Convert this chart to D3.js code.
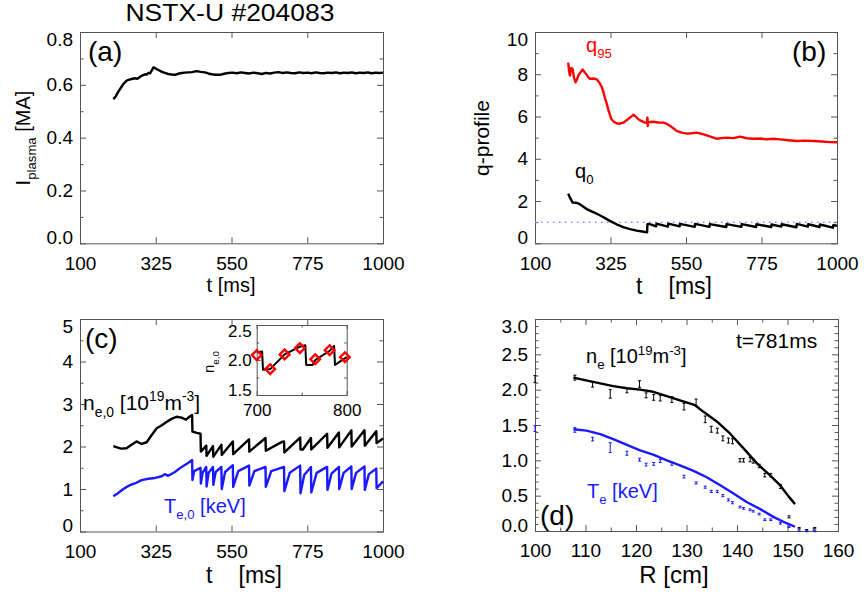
<!DOCTYPE html>
<html>
<head>
<meta charset="utf-8">
<script src="https://cdn.jsdelivr.net/npm/d3@7"></script>
<style>
body { margin: 0; background: #fff; }
svg { display: block; font-family: "Liberation Sans", Arial, Helvetica, sans-serif; }
text { white-space: pre; }
</style>
</head>
<body>
<svg id="chart" width="865" height="592"></svg>
<script>
// (a) plasma current [t ms, MA]
var ipData = [[199,0.546],[206,0.556],[214,0.574],[222,0.590],[229,0.603],[237,0.614],[244,0.619],[253,0.622],[263,0.625],[270,0.623],
    [278,0.630],[286,0.636],[293,0.640],[298,0.639],[303,0.645],[308,0.643],[311,0.650],[315,0.658],[318,0.666],[322,0.664],
    [327,0.660],[333,0.656],[342,0.650],[352,0.645],[362,0.641],[372,0.639],[382,0.638],[392,0.642],[402,0.645],[412,0.646],
    [422,0.647],[432,0.648],[447,0.652],[458,0.649],[471,0.647],[481,0.643],[491,0.640],[503,0.638],[516,0.638],[528,0.642],
    [541,0.645],[553,0.646],[566,0.644],[578,0.647],[590,0.645],[603,0.643],[615,0.646],[628,0.644],[640,0.641],[652,0.645],
    [665,0.643],[677,0.646],[689,0.648],[701,0.645],[714,0.647],[726,0.645],[739,0.644],[751,0.647],[764,0.645],[776,0.646],
    [788,0.644],[800,0.647],[812,0.645],[824,0.644],[836,0.646],[848,0.645],[860,0.647],[872,0.644],[884,0.646],[896,0.645],
    [907,0.647],[919,0.644],[931,0.646],[943,0.645],[955,0.647],[966,0.644],[978,0.646],[990,0.645],[1000,0.646]];

// (b) q95 and q0
var q95Data = [[199,8.55],[202,8.1],[204,7.94],[208,8.3],[212,8.25],[216,7.85],[221,7.62],[225,7.75],[229,7.94],[236,8.1],
    [242,8.22],[248,8.1],[254,7.97],[259,7.85],[264,7.78],[274,7.8],[284,7.76],[292,7.6],[299,7.4],[304,7.15],[309,6.85],
    [314,6.6],[318,6.35],[323,6.1],[328,5.87],[335,5.75],[343,5.68],[353,5.66],[363,5.71],[373,5.82],[383,5.95],[393,6.08],
    [400,6.0],[408,5.87],[418,5.78],[428,5.71],[434,5.70],[435,5.95],[436,5.55],[437,5.75],[445,5.74],[452,5.75],[467,5.72],
    [482,5.71],[492,5.66],[502,5.56],[512,5.45],[522,5.32],[537,5.24],[552,5.19],[567,5.21],[582,5.24],[597,5.18],[612,5.11],
    [627,5.03],[641,4.95],[656,4.98],[671,5.0],[691,4.98],[711,5.05],[731,4.97],[751,4.95],[771,4.96],[790,4.92],[810,4.95],
    [830,4.92],[855,4.88],[880,4.84],[905,4.86],[929,4.84],[954,4.82],[979,4.79],[1000,4.78]];
var q0Data = [[199,2.35],[203,2.2],[208,2.05],[212,1.93],[222,1.92],[230,1.88],[240,1.78],[254,1.62],[270,1.50],[284,1.40],
    [300,1.27],[323,1.06],[343,0.90],[363,0.77],[383,0.67],[403,0.60],[420,0.56],[434,0.52],[435,0.90],[440,0.92],[461,0.80],
    [462,0.93],[496,0.79],[497,0.93],[531,0.80],[532,0.92],[576,0.78],[577,0.92],[620,0.78],[621,0.91],[670,0.77],[671,0.91],
    [715,0.78],[716,0.91],[759,0.77],[760,0.90],[804,0.77],[805,0.89],[834,0.79],[835,0.90],[879,0.76],[880,0.92],[913,0.79],
    [914,0.90],[948,0.77],[949,0.89],[988,0.74],[989,0.86],[1000,0.83]];
var qRef = 1;

// (c) central density and temperature
var neData = [[199,2.01],[210,1.98],[222,1.95],[238,1.96],[253,2.04],[268,2.12],[283,2.06],[298,2.10],[313,2.27],[328,2.43],
    [343,2.50],[358,2.58],[372,2.65],[387,2.70],[402,2.68],[415,2.63],[425,2.70],[433,2.74],[434,2.35],[447,2.32],[458,2.30],
    [459,1.88],[475,2.02],[476,1.78],[495,2.01],[496,1.76],[520,2.04],[521,1.80],[554,2.12],[555,1.82],[602,2.17],[603,1.88],
    [651,2.20],[652,1.90],[700,2.11],[706,2.12],[707,1.86],[754,2.21],[755,1.93],[762,1.93],[786,2.20],[787,1.93],[834,2.30],
    [835,1.97],[869,2.33],[870,1.98],[906,2.38],[907,2.00],[945,2.38],[946,2.02],[980,2.36],[981,2.08],[1000,2.19]];
var teData = [[199,0.83],[209,0.88],[219,0.94],[229,1.00],[239,1.05],[251,1.10],[263,1.13],[283,1.21],[303,1.24],[323,1.26],
    [343,1.30],[352,1.35],[362,1.31],[382,1.40],[402,1.52],[422,1.62],[433,1.68],[434,1.21],[439,1.42],[458,1.50],[459,1.13],
    [464,1.38],[475,1.52],[476,1.06],[482,1.38],[495,1.52],[496,1.10],[503,1.40],[520,1.52],[521,1.00],[531,1.40],[554,1.56],
    [555,1.05],[570,1.42],[602,1.55],[603,1.08],[618,1.42],[651,1.52],[652,1.05],[668,1.42],[706,1.52],[707,0.95],[723,1.38],
    [754,1.55],[755,0.90],[766,1.33],[786,1.52],[787,0.92],[803,1.38],[834,1.52],[835,0.98],[847,1.36],[869,1.52],[870,1.00],
    [883,1.38],[906,1.53],[907,1.00],[920,1.38],[945,1.53],[946,0.98],[958,1.35],[980,1.48],[981,1.02],[1000,1.18]];
// inset: n_e,0 zoom and Thomson samples
var insetNe = [[700,2.11],[706,2.12],[707,1.86],[715,1.87],[731,2.08],[748,2.19],[754,2.21],[755,1.93],[762,1.93],[765,2.0],
    [781,2.13],[786,2.2],[787,1.93],[800,2.04]];
var tsTime = [700, 715, 731, 748, 765, 781, 798];
var tsNe = [2.07, 1.87, 2.08, 2.17, 2.01, 2.14, 2.04];

// (d) profiles at t=781ms
var fitR = [107.6, 111.5, 115.5, 118.2, 120.8, 123.4, 126.1, 128.7, 131.7, 133.3, 136.0, 138.6, 141.3, 143.9, 146.5, 148.5, 150.2, 151.5];
var fitNe = [2.17, 2.11, 2.05, 2.02, 2.00, 1.97, 1.91, 1.85, 1.78, 1.69, 1.55, 1.38, 1.17, 0.96, 0.79, 0.65, 0.49, 0.38];
var fitTeR = [107.6, 110.2, 112.9, 115.5, 118.2, 120.8, 123.4, 126.1, 128.7, 131.4, 134.0, 136.6, 139.3, 141.9, 144.6, 147.2, 149.8, 151.5];
var fitTe = [1.44, 1.42, 1.37, 1.30, 1.22, 1.14, 1.08, 1.00, 0.93, 0.85, 0.76, 0.65, 0.53, 0.41, 0.31, 0.20, 0.11, 0.06];
var tsR = [100.0, 107.9, 111.4, 114.9, 118.2, 120.7, 122.0, 123.5, 124.8, 127.1, 129.5, 131.9, 133.7, 134.9, 136.1,
    137.2, 138.3, 139.1, 140.6, 141.3, 142.6, 143.2, 144.4, 145.5, 146.7, 148.6, 150.3, 152.3, 153.8, 155.4];
var tsProfNe = [2.15, 2.17, 2.07, 1.94, 1.99, 2.08, 1.92, 1.89, 1.88, 1.86, 1.76, 1.82, 1.58, 1.44, 1.42,
    1.31, 1.28, 1.27, 1.00, 1.00, 1.01, 0.99, 0.92, 0.79, 0.79, 0.63, 0.20, 0.04, 0.01, 0.04];
var tsProfNeErr = [0.05, 0.035, 0.033, 0.06, 0.035, 0.047, 0.035, 0.04, 0.04, 0.04, 0.047, 0.047, 0.047, 0.042, 0.035,
    0.035, 0.035, 0.035, 0.024, 0.024, 0.03, 0.03, 0.025, 0.025, 0.025, 0.03, 0.015, 0.01, 0.01, 0.01];
var tsProfTe = [1.45, 1.43, 1.30, 1.18, 1.10, 1.01, 0.94, 0.95, 0.99, 0.95, 0.77, 0.68, 0.62, 0.56, 0.56,
    0.50, 0.44, 0.40, 0.34, 0.32, 0.30, 0.28, 0.24, 0.16, 0.16, 0.11, 0.06, 0.005, 0.0, 0.0];
var tsProfTeErr = [0.042, 0.033, 0.026, 0.07, 0.028, 0.02, 0.02, 0.02, 0.02, 0.02, 0.02, 0.015, 0.015, 0.015, 0.015,
    0.015, 0.015, 0.015, 0.012, 0.012, 0.012, 0.012, 0.012, 0.012, 0.012, 0.012, 0.01, 0.01, 0.01, 0.01];

var timeTicks = [100, 325, 550, 775, 1000];

var AXIS = '#555';
var RED = '#ff0000', BLUE = '#1a1aff';
var svg = d3.select('#chart');

function tickSet(g, axisFn, scale, pos, values, len, fmt, pad) {
    var a = axisFn(scale).tickValues(values).tickSize(-len).tickPadding(pad || 3)
        .tickFormat(fmt || function() { return ''; });
    var s = g.append('g').attr('transform', pos).call(a);
    s.select('.domain').remove();
    s.attr('font-family', null).attr('font-size', null).attr('color', AXIS);
    s.selectAll('text').attr('fill', '#000');
    return s;
}

function panel(box, xDom, yDom, o) {
    var g = svg.append('g');
    var x = d3.scaleLinear().domain(xDom).range([box[0], box[1]]);
    var y = d3.scaleLinear().domain(yDom).range([box[3], box[2]]);
    var tl = o.tick || 6, ml = o.minor || 3.5, fs = o.fontSize || 19;
    var bottom = 'translate(0,' + box[3] + ')', top = 'translate(0,' + box[2] + ')';
    var left = 'translate(' + box[0] + ',0)', right = 'translate(' + box[1] + ',0)';
    if (o.xm) {
        tickSet(g, d3.axisBottom, x, bottom, o.xm, ml);
        tickSet(g, d3.axisTop, x, top, o.xm, ml);
    }
    if (o.ym) {
        tickSet(g, d3.axisLeft, y, left, o.ym, ml);
        tickSet(g, d3.axisRight, y, right, o.ym, ml);
    }
    tickSet(g, d3.axisTop, x, top, o.xt, tl);
    tickSet(g, d3.axisRight, y, right, o.yt, tl);
    var xb = tickSet(g, d3.axisBottom, x, bottom, o.xt, tl, o.fx || d3.format('d'), o.xPad || 13);
    xb.selectAll('text').style('font-size', fs + 'px');
    var yl = tickSet(g, d3.axisLeft, y, left, o.yt, tl, o.fy, o.yPad || 7);
    // end labels sit a little inside the frame
    yl.selectAll('text').style('font-size', fs + 'px').attr('dy', function(d) {
        if (d === yDom[1]) return (o.topShift || 13) + 'px';
        if (d === yDom[0]) return (o.botShift || 0) + 'px';
        return '0.32em';
    });
    g.append('rect').attr('x', box[0] + 0.5).attr('y', box[2] + 0.5)
        .attr('width', box[1] - box[0]).attr('height', box[3] - box[2])
        .attr('fill', 'none').attr('stroke', AXIS).attr('stroke-width', 1);
    return { g: g, x: x, y: y };
}

function rich(g, x, y, parts, size, color, anchor) {
    var t = g.append('text').attr('x', x).attr('y', y).attr('font-size', size)
        .attr('fill', color || '#000').attr('text-anchor', anchor || 'start');
    var shift = 0;
    parts.forEach(function(p) {
        var target = p[1] === 'sub' ? size * 0.32 : p[1] === 'sup' ? -size * 0.42 : 0;
        t.append('tspan').attr('dy', target - shift).attr('font-size', p[1] ? size * 0.66 : size).text(p[0]);
        shift = target;
    });
    return t;
}

function label(g, x, y, str, size, color, anchor) {
    return g.append('text').attr('x', x).attr('y', y).attr('font-size', size)
        .attr('fill', color || '#000').attr('text-anchor', anchor || 'start').text(str);
}

// time axis title: "t" at the left, unit flush right
function timeTitle(g, x0, x1, y) {
    label(g, x0, y, 't', 23);
    label(g, x1, y, '[ms]', 23, '#000', 'end');
}

function trace(p, data, color, w) {
    var line = d3.line().x(function(d) { return p.x(d[0]); }).y(function(d) { return p.y(d[1]); });
    p.g.append('path').datum(data).attr('d', line).attr('fill', 'none')
        .attr('stroke', color).attr('stroke-width', w || 2.4).attr('stroke-linejoin', 'round');
}

svg.append('rect').attr('width', 865).attr('height', 592).attr('fill', '#fff');
label(svg, 230, 21, 'NSTX-U #204083', 23, '#000', 'middle').attr('textLength', 209).attr('lengthAdjust', 'spacingAndGlyphs');

// (a)
var pa = panel([80, 383, 32, 243.3], [100, 1000], [0, 0.8], {
    xt: timeTicks, yt: [0, 0.2, 0.4, 0.6, 0.8], ym: [0.1, 0.3, 0.5, 0.7], fy: d3.format('.1f')
});
trace(pa, ipData, '#000');
label(pa.g, 88, 61, '(a)', 28);
label(pa.g, 231, 292, 't [ms]', 20, '#000', 'middle');
rich(pa.g, 0, 0, [['I'], ['plasma', 'sub'], [' [MA]']], 20, '#000', 'middle')
    .attr('transform', 'translate(30,138) rotate(-90)');

// (b)
var pb = panel([535, 837, 32, 243.3], [100, 1000], [0, 10], {
    xt: timeTicks, yt: [0, 2, 4, 6, 8, 10], ym: [1, 3, 5, 7, 9], fy: d3.format('d')
});
pb.g.append('line').attr('x1', pb.x(100)).attr('x2', pb.x(1000)).attr('y1', pb.y(qRef)).attr('y2', pb.y(qRef))
    .attr('stroke', '#8a8aff').attr('stroke-width', 1.5).attr('stroke-dasharray', '1.5,4.5');
trace(pb, q95Data, RED);
trace(pb, q0Data, '#000');
label(pb.g, 792, 61, '(b)', 28);
rich(pb.g, 586, 52, [['q'], ['95', 'sub']], 20, RED);
rich(pb.g, 575, 178, [['q'], ['0', 'sub']], 20);
timeTitle(pb.g, 636, 712, 294);
label(pb.g, 0, 0, 'q-profile', 21, '#000', 'middle').attr('transform', 'translate(489,138) rotate(-90)');

// (c)
var pc = panel([80, 383, 319, 531.5], [100, 1000], [0, 5], {
    xt: timeTicks, yt: [0, 1, 2, 3, 4, 5], ym: [0.5, 1.5, 2.5, 3.5, 4.5], fy: d3.format('d')
});
trace(pc, neData, '#000');
trace(pc, teData, BLUE);
label(pc.g, 85, 348, '(c)', 28);
rich(pc.g, 83, 410, [['n'], ['e,0', 'sub'], [' [10'], ['19', 'sup'], ['m'], ['-3', 'sup'], [']']], 21);
rich(pc.g, 164, 513, [['T'], ['e,0', 'sub'], [' [keV]']], 20, BLUE);
timeTitle(pc.g, 206, 282, 583);

// inset
var pi = panel([256.7, 346.7, 325, 395], [700, 800], [1.5, 2.5], {
    xt: [700, 800], xm: [750], yt: [1.5, 2.0, 2.5], ym: [1.75, 2.25], fy: d3.format('.1f'),
    fontSize: 17, tick: 4, minor: 2.5, xPad: 9, yPad: 5, topShift: 11, botShift: 0
});
trace(pi, insetNe, '#000', 2);
pi.g.selectAll('path.ts').data(tsTime).enter().append('path').attr('class', 'ts')
    .attr('transform', function(d, i) { return 'translate(' + pi.x(d) + ',' + pi.y(tsNe[i]) + ')'; })
    .attr('d', d3.symbol(d3.symbolDiamond2, 60)()).attr('fill', 'none').attr('stroke', RED).attr('stroke-width', 2.4);
rich(pi.g, 0, 0, [['n'], ['e,0', 'sub']], 15, '#000', 'middle').attr('transform', 'translate(214,362) rotate(-90)');

// (d)
var pd = panel([535, 838, 319, 531], [100, 160], [0, 3], {
    xt: [100, 110, 120, 130, 140, 150, 160], xm: [105, 115, 125, 135, 145, 155],
    yt: [0, 0.5, 1, 1.5, 2, 2.5, 3], ym: d3.range(1, 30).filter(function(v) { return v % 5; }).map(function(v) { return v / 10; }),
    fy: d3.format('.1f')
});
function errBars(p, vals, errs, color) {
    var grp = p.g.append('g').attr('stroke', color).attr('stroke-width', 1);
    tsR.forEach(function(r, i) {
        var cx = p.x(r), lo = p.y(vals[i] - errs[i]), hi = p.y(vals[i] + errs[i]);
        grp.append('line').attr('x1', cx).attr('x2', cx).attr('y1', lo).attr('y2', hi);
        grp.append('line').attr('x1', cx - 1.5).attr('x2', cx + 1.5).attr('y1', lo).attr('y2', lo);
        grp.append('line').attr('x1', cx - 1.5).attr('x2', cx + 1.5).attr('y1', hi).attr('y2', hi);
    });
}
errBars(pd, tsProfNe, tsProfNeErr, '#000');
errBars(pd, tsProfTe, tsProfTeErr, BLUE);
trace(pd, d3.zip(fitR, fitNe), '#000');
trace(pd, d3.zip(fitTeR, fitTe), BLUE);
label(pd.g, 540, 525, '(d)', 28);
label(pd.g, 736, 348, 't=781ms', 21);
rich(pd.g, 586, 363, [['n'], ['e', 'sub'], [' [10'], ['19', 'sup'], ['m'], ['-3', 'sup'], [']']], 20);
rich(pd.g, 587, 498, [['T'], ['e', 'sub'], [' [keV]']], 20, BLUE);
label(pd.g, 674, 583, 'R [cm]', 24, '#000', 'middle');
</script>
</body>
</html>
